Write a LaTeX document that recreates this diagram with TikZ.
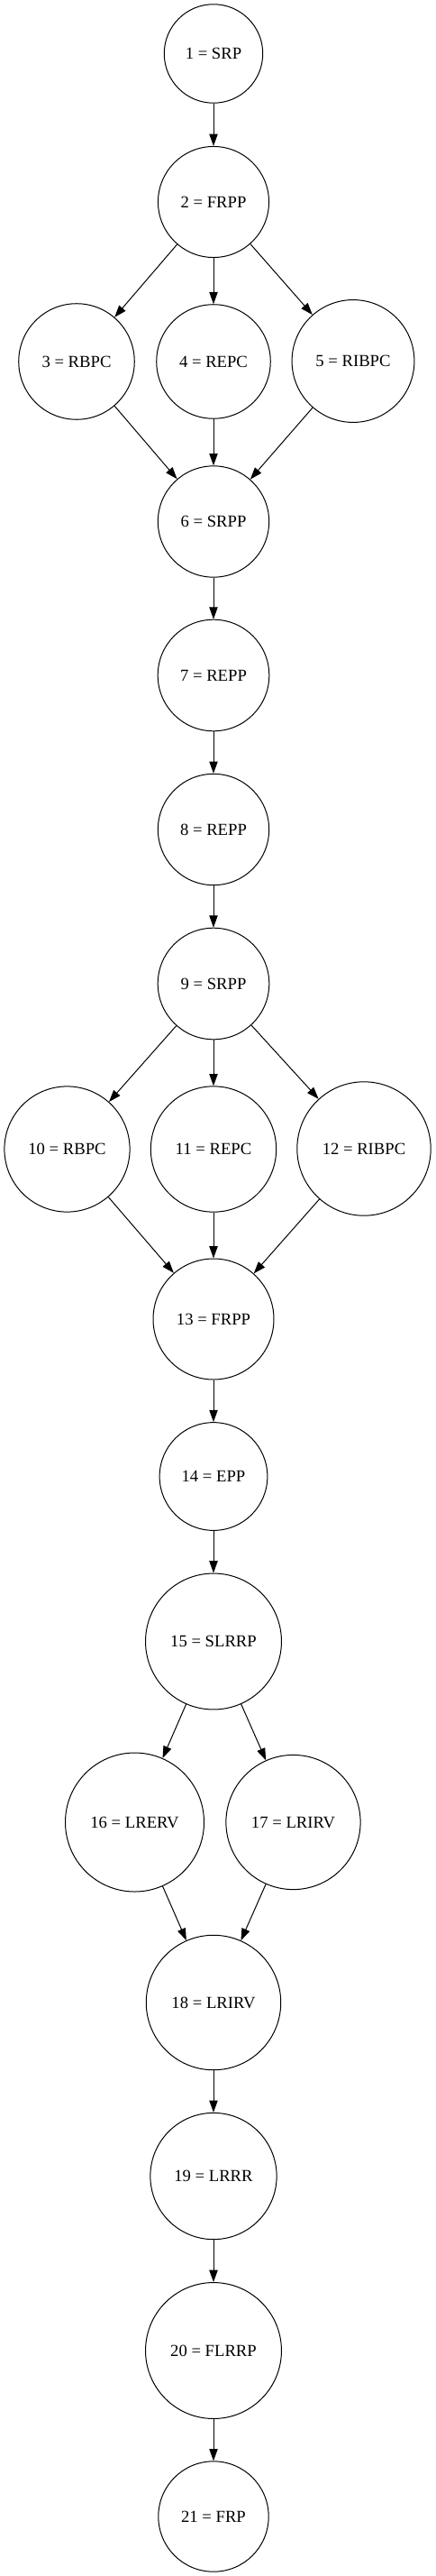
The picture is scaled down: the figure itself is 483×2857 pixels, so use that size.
\documentclass[tikz,border=0pt]{standalone}
\usepackage{fontspec}
\setmainfont{Liberation Serif}
\usetikzlibrary{arrows.meta}

\begin{document}
\begin{tikzpicture}[> = {Triangle[length=10pt, width=7pt]}, x=0.75pt, y=-0.75pt, line width=0.75pt]
    % Style for the states
    \tikzstyle{vertex}=[circle, draw, inner sep=0pt, font=\fontsize{14}{16}\selectfont]
    \useasboundingbox (0,0) rectangle (483,2857);

    % States
    \node[vertex, minimum size=82.1pt] (v1) at (237,59.5) {1 = SRP};
    \node[vertex, minimum size=92.3pt] (v2) at (237,224) {2 = FRPP};
    \node[vertex, minimum size=96.4pt] (v3) at (85,401) {3 = RBPC};
    \node[vertex, minimum size=94.9pt] (v4) at (237,401) {4 = REPC};
    \node[vertex, minimum size=101.9pt] (v5) at (392,400.5) {5 = RIBPC};
    \node[vertex, minimum size=92.5pt] (v6) at (237,578.5) {6 = SRPP};
    \node[vertex, minimum size=92.7pt] (v7) at (237,749) {7 = REPP};
    \node[vertex, minimum size=92.5pt] (v8) at (237,920) {8 = REPP};
    \node[vertex, minimum size=92.7pt] (v9) at (237,1091) {9 = SRPP};
    \node[vertex, minimum size=104.4pt] (v10) at (74.5,1274.5) {10 = RBPC};
    \node[vertex, minimum size=104.5pt] (v11) at (237,1274.5) {11 = REPC};
    \node[vertex, minimum size=111.3pt] (v12) at (404,1274) {12 = RIBPC};
    \node[vertex, minimum size=100.5pt] (v13) at (237,1463) {13 = FRPP};
    \node[vertex, minimum size=89.8pt] (v14) at (237,1637.5) {14 = EPP};
    \node[vertex, minimum size=113.2pt] (v15) at (237,1820.5) {15 = SLRRP};
    \node[vertex, minimum size=115.5pt] (v16) at (149.5,2021) {16 = LRERV};
    \node[vertex, minimum size=111.9pt] (v17) at (325.5,2021) {17 = LRIRV};
    \node[vertex, minimum size=112.1pt] (v18) at (237,2221) {18 = LRIRV};
    \node[vertex, minimum size=105.2pt] (v19) at (237,2413.5) {19 = LRRR};
    \node[vertex, minimum size=113.2pt] (v20) at (237,2607) {20 = FLRRP};
    \node[vertex, minimum size=91.8pt] (v21) at (237,2791) {21 = FRP};

    % Transitions
    \draw[->] (v1) -- (v2);
    \draw[->] (v2) -- (v3);
    \draw[->] (v2) -- (v4);
    \draw[->] (v2) -- (v5);
    \draw[->] (v3) -- (v6);
    \draw[->] (v4) -- (v6);
    \draw[->] (v5) -- (v6);
    \draw[->] (v6) -- (v7);
    \draw[->] (v7) -- (v8);
    \draw[->] (v8) -- (v9);
    \draw[->] (v9) -- (v10);
    \draw[->] (v9) -- (v11);
    \draw[->] (v9) -- (v12);
    \draw[->] (v10) -- (v13);
    \draw[->] (v11) -- (v13);
    \draw[->] (v12) -- (v13);
    \draw[->] (v13) -- (v14);
    \draw[->] (v14) -- (v15);
    \draw[->] (v15) -- (v16);
    \draw[->] (v15) -- (v17);
    \draw[->] (v16) -- (v18);
    \draw[->] (v17) -- (v18);
    \draw[->] (v18) -- (v19);
    \draw[->] (v19) -- (v20);
    \draw[->] (v20) -- (v21);
\end{tikzpicture}
\end{document}
